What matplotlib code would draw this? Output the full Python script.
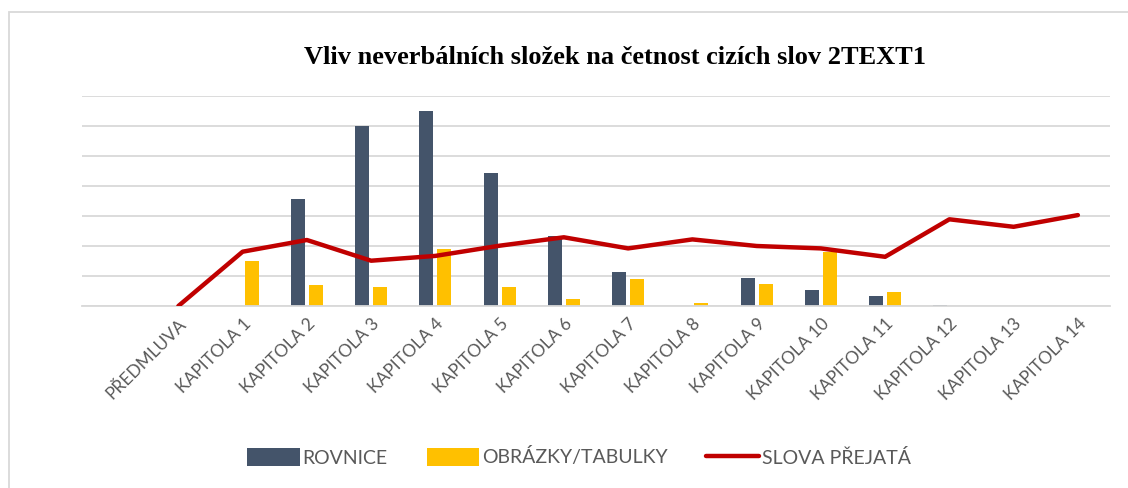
import numpy as np
import matplotlib
matplotlib.use('Agg')
import matplotlib.pyplot as plt
from matplotlib.patches import Rectangle

# Kategorie a hodnoty
kategorie = ['PŘEDMLUVA', 'KAPITOLA 1', 'KAPITOLA 2', 'KAPITOLA 3', 'KAPITOLA 4',
             'KAPITOLA 5', 'KAPITOLA 6', 'KAPITOLA 7', 'KAPITOLA 8', 'KAPITOLA 9',
             'KAPITOLA 10', 'KAPITOLA 11', 'KAPITOLA 12', 'KAPITOLA 13', 'KAPITOLA 14']
rovnice = [0, 0, 3.56, 6.0, 6.5, 4.44, 2.34, 1.14, 0, 0.94, 0.53, 0.34, 0.02, 0, 0]
obrazky = [0, 1.5, 0.69, 0.64, 1.89, 0.64, 0.23, 0.89, 0.1, 0.74, 1.8, 0.46, 0, 0, 0.01]
slova = [0, 1.81, 2.2, 1.51, 1.67, 2.01, 2.29, 1.92, 2.22, 2.0, 1.92, 1.64, 2.89, 2.64, 3.03]

plt.rcParams['font.family'] = ['Lato', 'DejaVu Sans']

fig = plt.figure(figsize=(11.28, 4.88), dpi=100)
ax = fig.add_axes([82 / 1128, 1 - 306 / 488, 1028 / 1128, 210 / 488])

x = np.arange(len(kategorie))
w = 0.22
b1 = ax.bar(x - 0.14, rovnice, w, color='#44546A', label='ROVNICE', zorder=2)
b2 = ax.bar(x + 0.14, obrazky, w, color='#FFC000', label='OBRÁZKY/TABULKY', zorder=2)
l1, = ax.plot(x, slova, color='#C00000', lw=3.2, solid_capstyle='round',
              solid_joinstyle='round', label='SLOVA PŘEJATÁ', zorder=3)

ax.set_xlim(-1.5, 14.5)
ax.set_ylim(0, 7)
ax.set_yticks(np.arange(0, 8, 1))
ax.yaxis.grid(True, color='#D9D9D9', lw=1.3)
ax.set_axisbelow(True)
ax.tick_params(axis='y', left=False, labelleft=False)
ax.tick_params(axis='x', length=0, pad=7)
for s in ['top', 'right', 'left']:
    ax.spines[s].set_visible(False)
ax.spines['bottom'].set_color('#D9D9D9')
ax.spines['bottom'].set_linewidth(1.3)

ax.set_xticks(x)
ax.set_xticklabels(kategorie, rotation=45, ha='right', va='top',
                   rotation_mode='anchor', fontsize=12.5, color='#595959')

fig.text(615 / 1128, 1 - 57 / 488, 'Vliv neverbálních složek na četnost cizích slov 2TEXT1',
         ha='center', va='center', fontsize=19, fontweight='bold',
         family='Liberation Serif')

fig.legend([b1, b2, l1], ['ROVNICE', 'OBRÁZKY/TABULKY', 'SLOVA PŘEJATÁ'],
           loc='center', bbox_to_anchor=(579 / 1128, 1 - 457 / 488), ncol=3,
           frameon=False, fontsize=14, handlelength=2.7, handleheight=1.0,
           handletextpad=0.15, columnspacing=2.0, labelcolor='#595959')

# Rámeček kolem grafu
fig.patches.append(Rectangle((9 / 1128, -0.1), 1.2, 1 - 12 / 488 + 0.1,
                             transform=fig.transFigure, fill=False,
                             edgecolor='#D9D9D9', lw=1.3))

fig.savefig('out.png', dpi=100)
